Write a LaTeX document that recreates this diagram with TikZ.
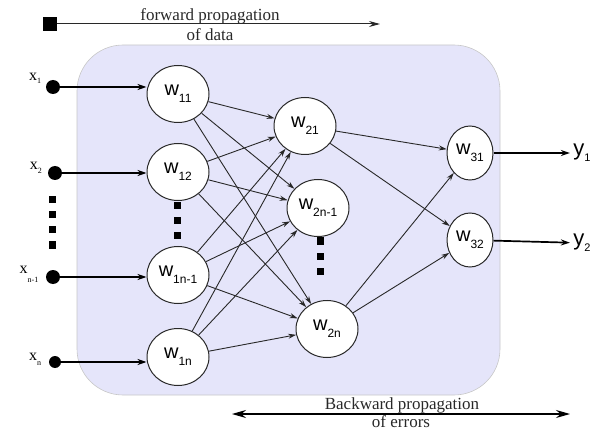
\documentclass[tikz,border=0pt]{standalone}
\usepackage{fontspec}
\setmainfont{Liberation Serif}
\newfontfamily\arialf{Liberation Sans}
\usetikzlibrary{shapes.geometric,arrows.meta}

\definecolor{panel}{RGB}{229,229,250}
\definecolor{ink}{RGB}{40,40,40}

% weight label: large sans "w" with a lowered index
\newcommand{\wlab}[1]{{\arialf\fontsize{20}{20}\selectfont w\raisebox{-7pt}{\fontsize{12}{12}\selectfont #1}}}
% input label: serif "x" with a small index
\newcommand{\xlab}[2]{{\fontsize{16}{16}\selectfont x\raisebox{#2}{\fontsize{8}{8}\selectfont #1}}}
% output label
\newcommand{\ylab}[1]{{\arialf\fontsize{22}{22}\selectfont y\raisebox{-6pt}{\fontsize{11}{11}\selectfont #1}}}

\tikzset{
  neuron/.style={ellipse, draw=ink, line width=1pt, fill=white,
                 minimum width=62pt, minimum height=57pt, inner sep=0pt},
  outneuron/.style={neuron, minimum width=46pt, minimum height=54pt},
  link/.style={draw=ink, line width=0.9pt, -{Stealth[length=8pt,width=5pt]}},
  feed/.style={draw=black, line width=1.7pt, -{Stealth[length=9pt,width=6pt]}},
  indot/.style={circle, fill=black, minimum size=14pt, inner sep=0pt},
  sq/.style={fill=black, minimum size=7pt, inner sep=0pt},
  caption/.style={font=\fontsize{17}{17}\selectfont, text=ink, inner sep=0pt},
}

\begin{document}
\begin{tikzpicture}[x=1pt,y=-1pt]
  \path[use as bounding box] (0,0) rectangle (603,433);

  % shaded panel behind the network
  \draw[draw=black!22, fill=panel, line width=0.6pt, rounded corners=46pt]
    (77,45) rectangle (500,395);

  % forward propagation arrow
  \node[fill=black, minimum size=14pt, inner sep=0pt] (src) at (50,24) {};
  \coordinate (fwdend) at (380,24);
  \draw[draw=ink, line width=1pt, -{Stealth[length=11pt,width=6pt]}] (src) -- (fwdend);
  \node[caption] (fwd1) at (210,16) {forward propagation};
  \node[caption] (fwd2) at (210,35) {of data};

  % backward propagation arrow
  \coordinate (bwdl) at (232,414);
  \coordinate (bwdr) at (570,414);
  \draw[draw=black, line width=1.3pt,
        {Stealth[length=14pt,width=8pt]}-{Stealth[length=14pt,width=8pt]}] (bwdl) -- (bwdr);
  \node[caption] (bwd1) at (402,405) {Backward propagation};
  \node[caption] (bwd2) at (401,422) {of errors};

  % first layer
  \node[neuron] (w11)  at (178,94)  {\wlab{11}};
  \node[neuron] (w12)  at (178,172) {\wlab{12}};
  \node[neuron] (w1m)  at (178,275) {\wlab{1n-1}};
  \node[neuron] (w1n)  at (178,357) {\wlab{1n}};

  % second layer
  \node[neuron] (w21)  at (305,126) {\wlab{21}};
  \node[neuron] (w2m)  at (318,208) {\wlab{2n-1}};
  \node[neuron] (w2n)  at (327,329) {\wlab{2n}};

  % output layer
  \node[outneuron] (w31) at (470,153) {\wlab{31}};
  \node[outneuron] (w32) at (470,240) {\wlab{32}};

  % inputs
  \node[indot] (x1) at (53,87)  {};
  \node[indot] (x2) at (55,173) {};
  \node[indot] (xm) at (53,277) {};
  \node[indot, minimum size=12pt] (xn) at (55,362) {};

  \node (lx1) at (35,78)  {\xlab{1}{-3pt}};
  \node (lx2) at (36,168) {\xlab{2}{-4pt}};
  \node (lxm) at (29,274) {\xlab{n-1}{-9pt}};
  \node (lxn) at (35,359) {\xlab{n}{-5pt}};

  \draw[feed, line width=2pt] (x1) -- (x1 -| w11.west);
  \draw[feed] (x2) -- (x2 -| w12.west);
  \draw[feed] (xm) -- (xm -| w1m.west);
  \draw[feed, line width=1.4pt] (xn) -- (xn -| w1n.west);

  % ellipsis marks
  \foreach \yy in {200,215,230,245} \node[sq] at (52,\yy) {};
  \foreach \yy in {206,221,236} \node[sq] at (177,\yy) {};
  \foreach \yy in {241,256,271} \node[sq] at (320,\yy) {};

  % first to second layer
  \foreach \a in {w11,w12,w1m,w1n}
    \foreach \b in {w21,w2m,w2n}
      \draw[link] (\a) -- (\b);

  % second to output layer
  \foreach \a in {w21,w2n}
    \foreach \b in {w31,w32}
      \draw[link] (\a) -- (\b);

  % outputs
  \node (y1) at (582,153) {\ylab{1}};
  \node (y2) at (582,243) {\ylab{2}};
  \draw[feed] (w31) -- (y1);
  \draw[feed] (w32) -- (y2);
\end{tikzpicture}
\end{document}
